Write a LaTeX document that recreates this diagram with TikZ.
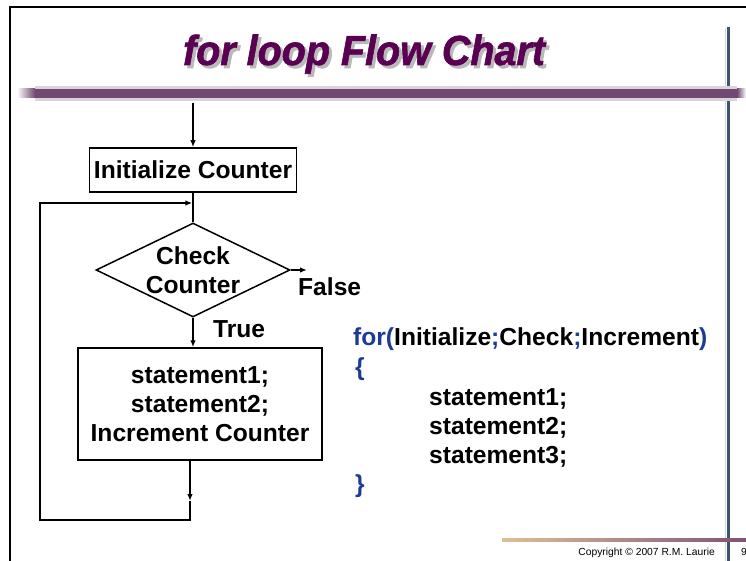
\documentclass[tikz,border=0pt]{standalone}
\usepackage{fontspec}
\usepackage{graphicx}
\setmainfont{Liberation Sans}
\newfontfamily\titlefont{Liberation Sans}[BoldItalicFeatures={FakeBold=1.5}]
\usetikzlibrary{arrows.meta,shapes.geometric}
\definecolor{titlepurple}{RGB}{90,0,82}
\definecolor{barpurple}{RGB}{112,74,112}
\definecolor{codeblue}{RGB}{28,58,150}
\definecolor{vlinec}{RGB}{58,84,114}
\definecolor{tanc}{RGB}{222,192,150}
\definecolor{mauvec}{RGB}{128,82,120}
\begin{document}
\begin{tikzpicture}[x=1pt,y=-1pt,
  txt/.style={font=\fontsize{24.6}{29}\selectfont\bfseries},
  box/.style={draw,line width=1.5pt,rectangle,inner sep=0pt,txt,align=center},
  conn/.style={line width=1.4pt,-{Latex[length=7pt,width=5.5pt]}},
  plain/.style={line width=1.4pt},
  code/.style={txt,anchor=base west,inner sep=0pt},
  titletxt/.style={font=\fontsize{42}{42}\selectfont\titlefont\bfseries\itshape,anchor=base,inner sep=0pt},
]
\useasboundingbox (0,0) rectangle (746,561);
\fill[white] (0,0) rectangle (746,561);
% frame
\draw[line width=2pt] (9,7) -- (746,7);
\draw[line width=2pt] (10,6) -- (10,561);
% right vertical rule
\draw[gray!35,line width=1.5pt] (725.5,28) -- (725.5,561);
\draw[vlinec,line width=3pt] (728,27) -- (728,561);
% title bar
\fill[barpurple!25] (35,86) rectangle (737,101);
\fill[barpurple] (35,89) rectangle (737,98);
\shade[left color=white,right color=barpurple] (17,89) rectangle (35,98);
\shade[left color=barpurple,right color=white] (737,89) rectangle (746,98);
% bottom rule
\shade[left color=tanc,right color=mauvec] (502,538.5) rectangle (746,541.5);
% title
\node[titletxt,text=gray!55] (tshadow) at (367,68) {\scalebox{0.94}[1]{for loop Flow Chart}};
\node[titletxt,text=titlepurple] (title) at (364,65) {\scalebox{0.94}[1]{for loop Flow Chart}};
% footer
\node[anchor=base east,inner sep=0pt,font=\fontsize{10.3}{12}\selectfont] (copy) at (715,555) {Copyright © 2007 R.M.\ Laurie};
\node[anchor=base west,inner sep=0pt,font=\fontsize{10.3}{12}\selectfont] (pg) at (741,555) {9};
% flowchart
\coordinate (top) at (193,103);
\node[box,minimum width=207pt,minimum height=44pt] (init) at (193,170) {Initialize Counter};
\node[diamond,draw,line width=1.5pt,minimum width=194pt,minimum height=94pt,inner sep=0pt,
  label={[txt,align=center]center:Check\\Counter}] (chk) at (193,270) {};
\node[box,minimum width=244pt,minimum height=112pt] (body) at (200,404) {statement1;\\statement2;\\Increment Counter};
\draw[conn] (top) -- (init.north);
\draw[plain] (init.south) -- (chk.north);
\coordinate (fe) at (307,270);
\draw[conn] (chk.east) -- (fe);
\node[txt,anchor=base west,inner sep=0pt] (false) at (298,295) {False};
\draw[conn] (chk.south) -- (chk.south |- body.north);
\node[txt,anchor=base west,inner sep=0pt] (true) at (213,337) {True};
\coordinate (b1) at (190,501);
\coordinate (b2) at (190,520);
\coordinate (b3) at (40,520);
\coordinate (b4) at (40,203);
\coordinate (b5) at (192.3,203);
\draw[conn] (b1 |- body.south) -- (b1);
\draw[conn] (b1) -- (b2) -- (b3) -- (b4) -- (b5);
% code
\node[code,text=codeblue] (for) at (353,345) {for(\textcolor{black}{Initialize};\textcolor{black}{Check};\textcolor{black}{Increment})};
\node[code,text=codeblue] (ob) at (355,375) {\{};
\node[code] (s1) at (429,405) {statement1;};
\node[code] (s2) at (429,434) {statement2;};
\node[code] (s3) at (429,463) {statement3;};
\node[code,text=codeblue] (cb) at (355,492) {\}};
\end{tikzpicture}
\end{document}
